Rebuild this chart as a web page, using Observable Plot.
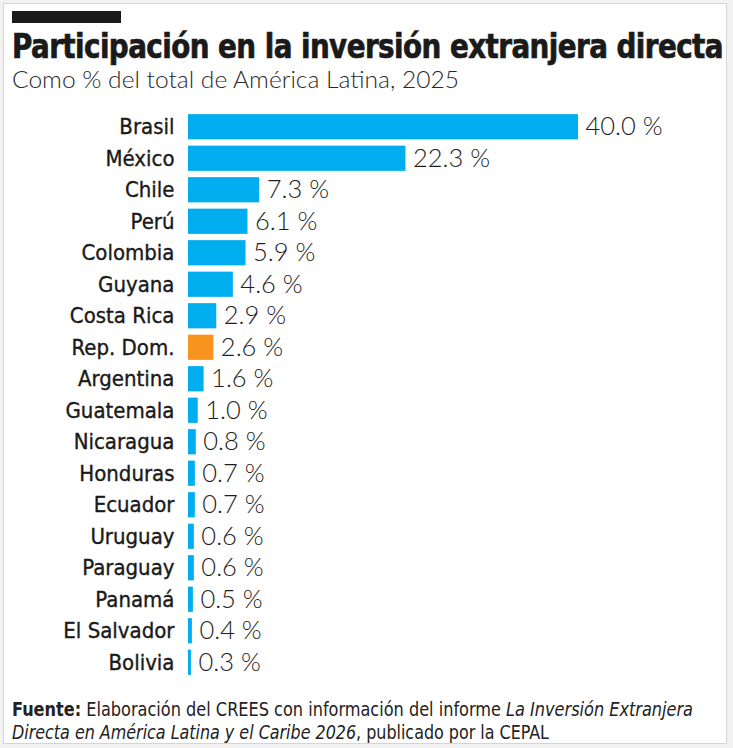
<!DOCTYPE html>
<html><head><meta charset="utf-8">
<script src="https://cdn.jsdelivr.net/npm/d3@7"></script>
<script src="https://cdn.jsdelivr.net/npm/@observablehq/plot@0.6"></script>
<style>
html,body{margin:0;padding:0;background:#f2f2f2;}
#card{position:absolute;left:3px;top:3px;width:724px;height:741px;background:#fff;border:1px solid #d4d4d4;box-sizing:border-box;overflow:hidden;}
.cond{font-family:"DejaVu Sans Condensed","Liberation Sans Narrow",sans-serif;}
#kicker{position:absolute;left:8px;top:7px;width:109px;height:12px;background:#1a1a1a;}
.fit{position:absolute;left:8px;white-space:nowrap;transform-origin:0 0;line-height:1;}
#title{top:25px;font-size:34px;font-weight:bold;color:#1a1a1a;letter-spacing:-0.6px;-webkit-text-stroke:0.7px #1a1a1a;}
#subtitle{top:63px;font-size:24px;color:#2a2a2a;font-family:Lato,sans-serif;font-weight:300;}
#chart{position:absolute;left:-4px;top:103px;width:733px;}
#chart svg{max-width:none;}
#chart g[aria-label="y-axis tick label"] text{stroke:#1a1a1a;stroke-width:0.35px;}
#note1{top:696px;font-size:19px;color:#222;}
#note2{top:719px;font-size:19px;color:#222;}
</style></head>
<body>
<div id="card">
<div id="kicker"></div>
<div id="title" class="fit cond">Participación en la inversión extranjera directa</div>
<div id="subtitle" class="fit">Como % del total de América Latina, 2025</div>
<div id="chart"></div>
<div id="note1" class="fit cond"><b>Fuente:</b> Elaboración del CREES con información del informe <i>La Inversión Extranjera</i></div>
<div id="note2" class="fit cond"><i>Directa en América Latina y el Caribe 2026</i>, publicado por la CEPAL</div>
</div>
<script>
const countries = ["Brasil","México","Chile","Perú","Colombia","Guyana","Costa Rica","Rep. Dom.","Argentina","Guatemala","Nicaragua","Honduras","Ecuador","Uruguay","Paraguay","Panamá","El Salvador","Bolivia"];
const shares = [40.0,22.3,7.3,6.1,5.9,4.6,2.9,2.6,1.6,1.0,0.8,0.7,0.7,0.6,0.6,0.5,0.4,0.3];
const highlight = "Rep. Dom.";

const data = countries.map((c,i)=>({country:c, value:shares[i]}));
const fmt = v => v.toFixed(1) + " %";

const plot = Plot.plot({
  width: 733,
  height: 575,
  marginLeft: 188,
  marginRight: 155,
  marginTop: 4,
  marginBottom: 4,
  style: {fontFamily: '"DejaVu Sans Condensed","Liberation Sans Narrow",sans-serif', background: "transparent", overflow: "visible"},
  x: {domain: [0, 40], axis: null},
  y: {domain: countries, paddingInner: 0.2, paddingOuter: 0.1, round: false, label: null},
  marks: [
    Plot.barX(data, {x: "value", y: "country", fill: d => d.country === highlight ? "#f7941d" : "#00aeef"}),
    Plot.text(data, {x: "value", y: "country", text: d => fmt(d.value), textAnchor: "start", dx: 7, fontSize: 25.5, fill: "#1f1d24", fontWeight: 300, fontFamily: "Lato, sans-serif"}),
    Plot.axisY({tickSize: 0, tickPadding: 14, fontSize: 22, fill: "#1a1a1a", label: null})
  ]
});
document.getElementById("chart").appendChild(plot);

function fit(id, w){
  const el = document.getElementById(id);
  const cw = el.getBoundingClientRect().width;
  el.style.transform = `scaleX(${w/cw})`;
}
fit("title", 711);
fit("subtitle", 447);
fit("note1", 681);
fit("note2", 537);
</script>
</body></html>
